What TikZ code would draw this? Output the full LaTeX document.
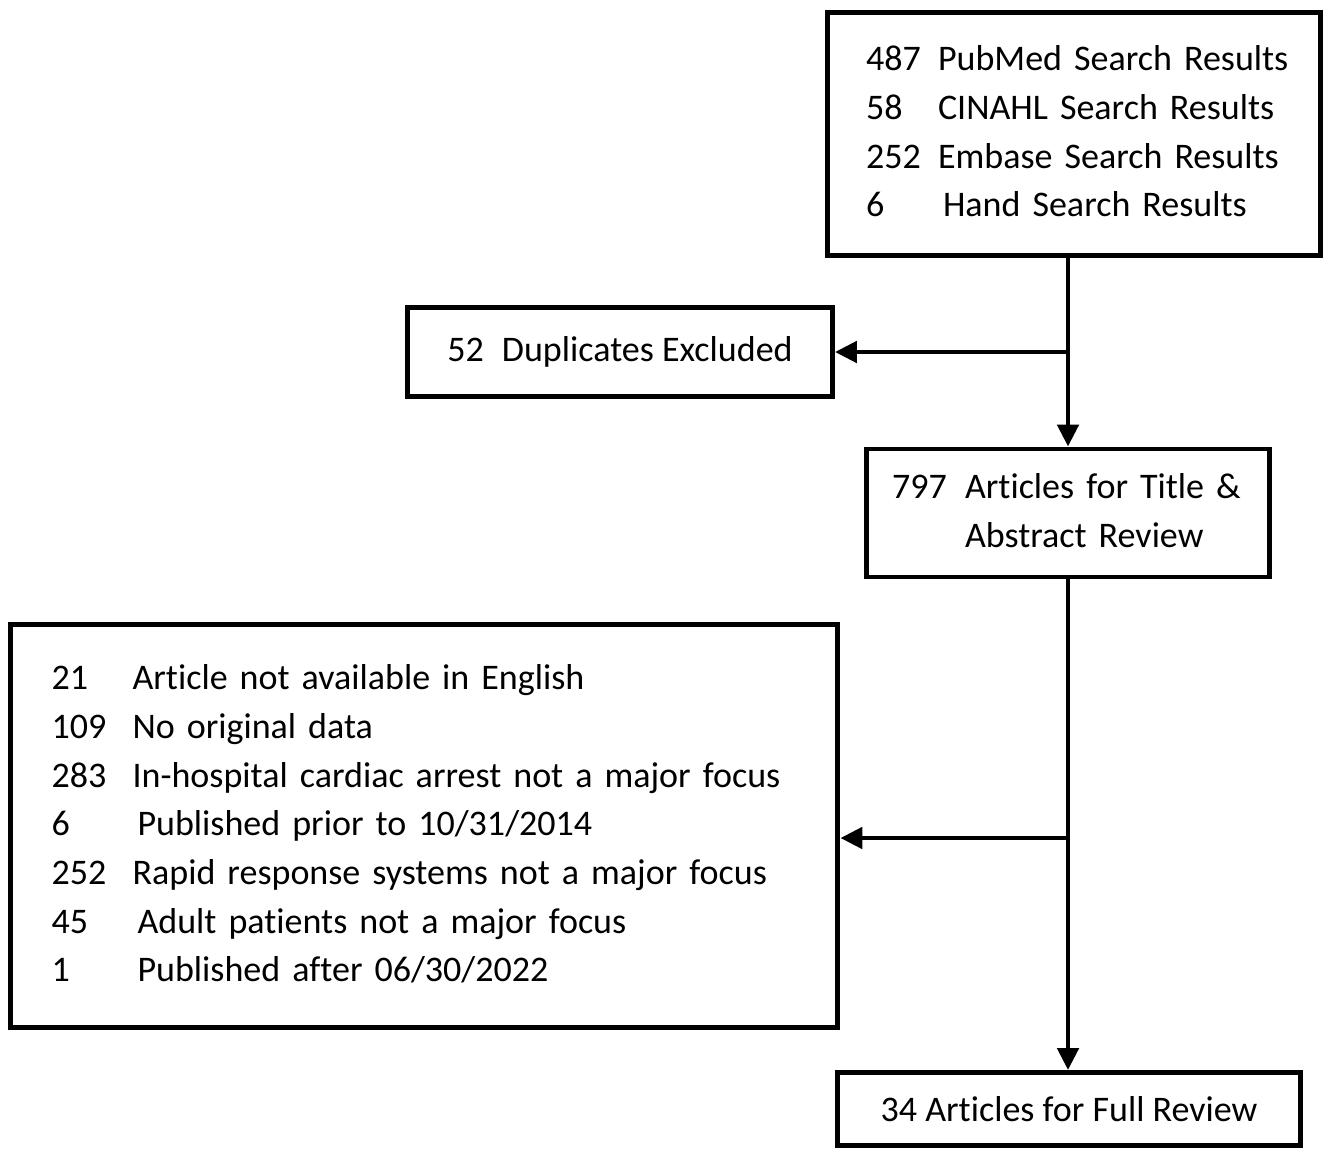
\documentclass[tikz,border=0pt]{standalone}
\usepackage{fontspec}
\setmainfont{Carlito}[Ligatures=NoCommon]
\usetikzlibrary{arrows.meta,positioning,calc}

\begin{document}
\begin{tikzpicture}[x=0.02cm,y=-0.02cm,
 box/.style={draw,line width=2.8pt,rectangle,inner ysep=0pt,
  font=\fontsize{20.5}{27.7}\selectfont},
 flow/.style={line width=2.8pt,-{Triangle[length=0.44cm,width=0.42cm]}}]
\useasboundingbox (0,0) rectangle (1331,1150);
% boxes
\node[box,minimum width=9.86cm,minimum height=4.86cm,inner xsep=0.77cm,
 text width=8.32cm,align=left] (search) at (1074,134)
 {\begin{tabular}{@{}p{1.44cm}@{}l@{}}
  487 & PubMed Search Results\\
  58 & CINAHL Search Results\\
  252 & Embase Search Results\\
  6 & \hspace{0.1cm}Hand Search Results
 \end{tabular}};
\node[box,minimum width=8.5cm,minimum height=1.78cm] (dup) at (620,352)
 {52\hspace{0.2cm} Duplicates Excluded};
\node[box,minimum width=8.06cm,minimum height=2.56cm,inner xsep=0.51cm,
 text width=7.04cm,align=left] (review) at (1068,513)
 {\begin{tabular}{@{}p{1.46cm}@{}l@{}}
  797 & Articles for Title \&\\
  & Abstract Review
 \end{tabular}};
\node[box,minimum width=16.56cm,minimum height=8.06cm,inner xsep=0.83cm,
 text width=14.9cm,align=left] (excl) at (424,826)
 {\begin{tabular}{@{}p{1.62cm}@{}l@{}}
  21 & Article not available in English\\
  109 & No original data\\
  283 & In-hospital cardiac arrest not a major focus\\
  6 & \hspace{0.1cm}Published prior to 10/31/2014\\
  252 & Rapid response systems not a major focus\\
  45 & \hspace{0.1cm}Adult patients not a major focus\\
  1 & \hspace{0.1cm}Published after 06/30/2022
 \end{tabular}};
\node[box,minimum width=9.26cm,minimum height=1.46cm] (full) at (1069,1109)
 {34 Articles for Full Review};
% connectors
\draw[flow] (search.south -| review.north) -- (review.north);
\draw[flow] (dup.east -| review.north) -- (dup.east);
\draw[flow] (review.south) -- (review.south |- full.north);
\draw[flow] ([yshift=-0.24cm]excl.east -| review.south) -- ([yshift=-0.24cm]excl.east);
\end{tikzpicture}
\end{document}
